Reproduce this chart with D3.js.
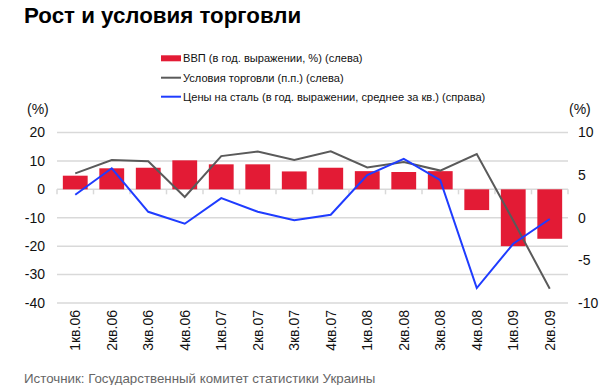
<!DOCTYPE html>
<html>
<head>
<meta charset="utf-8">
<script src="https://cdn.jsdelivr.net/npm/d3@7"></script>
<style>
  body { margin: 0; background: #fff; }
  svg { font-family: "Liberation Sans", Arial, sans-serif; }
</style>
</head>
<body>
<div id="chart"></div>
<script>
let quarters = ["1кв.06", "2кв.06", "3кв.06", "4кв.06", "1кв.07", "2кв.07", "3кв.07", "4кв.07",
    "1кв.08", "2кв.08", "3кв.08", "4кв.08", "1кв.09", "2кв.09"];
let gdp = [4.8, 7.4, 7.6, 10.2, 8.8, 8.8, 6.3, 7.6, 6.4, 6.1, 6.4, -7.3, -20.0, -17.4];
let termsOfTrade = [5.6, 10.3, 9.9, -2.7, 11.7, 13.3, 10.3, 13.4, 7.7, 9.6, 6.6, 12.4, -11.0, -35.0];
let steelPrices = [2.7, 5.8, 0.7, -0.7, 2.3, 0.7, -0.3, 0.35, 5.0, 6.9, 4.4, -8.25, -3.05, -0.15];
let leftTicks = [20, 10, 0, -10, -20, -30, -40];
let rightTicks = [10, 5, 0, -5, -10];
let legendLabels = ["ВВП (в год. выражении, %) (слева)", "Условия торговли (п.п.) (слева)",
    "Цены на сталь (в год. выражении, среднее за кв.) (справа)"];

let colors = {gdp: "#e31b35", tot: "#5a5a5a", steel: "#1f3cff"};

let svg = d3.select("#chart").append("svg")
    .attr("width", 600)
    .attr("height", 385);

let x = d3.scaleBand().domain(quarters).range([57, 568]).paddingInner(0.32).paddingOuter(0.16);
let yL = d3.scaleLinear().domain([-40, 20]).range([303, 132.5]);
let yR = d3.scaleLinear().domain([-10, 10]).range([303, 132.5]);

// title
svg.append("text")
    .attr("x", 24).attr("y", 23)
    .style("font-size", "22.3px").style("font-weight", "bold")
    .attr("fill", "#000")
    .text("Рост и условия торговли");

// legend
let legend = svg.append("g").attr("transform", "translate(161,0)");
let legendY = [58.3, 77.7, 96.7];
legend.append("rect").attr("x", 0).attr("y", legendY[0] - 3).attr("width", 20).attr("height", 6).attr("fill", colors.gdp);
legend.append("line").attr("x1", 0).attr("x2", 20).attr("y1", legendY[1]).attr("y2", legendY[1])
    .attr("stroke", colors.tot).attr("stroke-width", 2);
legend.append("line").attr("x1", 0).attr("x2", 20).attr("y1", legendY[2]).attr("y2", legendY[2])
    .attr("stroke", colors.steel).attr("stroke-width", 2);
legend.selectAll("text.leg").data(legendLabels).enter().append("text")
    .attr("class", "leg")
    .attr("x", 22).attr("y", (d, i) => legendY[i])
    .attr("dy", "0.35em")
    .style("font-size", "11.1px")
    .attr("fill", "#111")
    .text(d => d);

// gridlines
svg.append("g").selectAll("line").data(leftTicks).enter().append("line")
    .attr("x1", 57).attr("x2", 568)
    .attr("y1", d => yL(d)).attr("y2", d => yL(d))
    .attr("stroke", "#d9d9d9").attr("stroke-width", 1.5);

// small ticks on zero line at category boundaries
let bounds = quarters.map(q => x(q) - x.step() * x.paddingInner() / 2).concat([568]);
svg.append("g").selectAll("line").data(bounds).enter().append("line")
    .attr("x1", d => d).attr("x2", d => d)
    .attr("y1", yL(0)).attr("y2", yL(0) + 5)
    .attr("stroke", "#d9d9d9").attr("stroke-width", 1.5);

// axis labels
svg.append("g").selectAll("text").data(leftTicks).enter().append("text")
    .attr("x", 45).attr("y", d => yL(d)).attr("dy", "0.35em")
    .attr("text-anchor", "end")
    .style("font-size", "14px").attr("fill", "#111")
    .text(d => d);
svg.append("g").selectAll("text").data(rightTicks).enter().append("text")
    .attr("x", 578).attr("y", d => yR(d)).attr("dy", "0.35em")
    .attr("text-anchor", "start")
    .style("font-size", "14px").attr("fill", "#111")
    .text(d => d);
svg.append("text").attr("x", 27).attr("y", 109).attr("dy", "0.35em")
    .style("font-size", "14px").attr("fill", "#111").text("(%)");
svg.append("text").attr("x", 569).attr("y", 109).attr("dy", "0.35em")
    .style("font-size", "14px").attr("fill", "#111").text("(%)");

// bars
svg.append("g").selectAll("rect").data(gdp).enter().append("rect")
    .attr("x", (d, i) => x(quarters[i]))
    .attr("width", x.bandwidth())
    .attr("y", d => yL(Math.max(0, d)))
    .attr("height", d => Math.abs(yL(d) - yL(0)))
    .attr("fill", colors.gdp);

let cx = (d, i) => x(quarters[i]) + x.bandwidth() / 2;

svg.append("path").datum(termsOfTrade)
    .attr("fill", "none").attr("stroke", colors.tot).attr("stroke-width", 2)
    .attr("d", d3.line().x(cx).y(d => yL(d)));

svg.append("path").datum(steelPrices)
    .attr("fill", "none").attr("stroke", colors.steel).attr("stroke-width", 2)
    .attr("d", d3.line().x(cx).y(d => yR(d)));

// x labels
svg.append("g").selectAll("text").data(quarters).enter().append("text")
    .attr("transform", (d, i) => `translate(${cx(d, i)},310) rotate(-90)`)
    .attr("text-anchor", "end").attr("dy", "0.35em")
    .style("font-size", "14px").attr("fill", "#111")
    .text(d => d);

// source
svg.append("text")
    .attr("x", 24).attr("y", 378).attr("dy", "0.35em")
    .style("font-size", "13.3px").attr("fill", "#666")
    .text("Источник: Государственный комитет статистики Украины");
</script>
</body>
</html>
